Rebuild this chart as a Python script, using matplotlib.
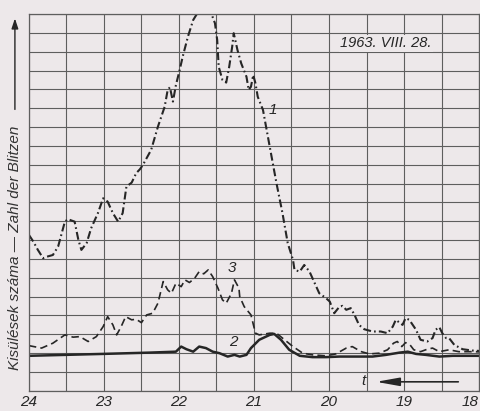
import numpy as np
import matplotlib.pyplot as plt
from matplotlib.patches import FancyArrowPatch

# curve 1 (dash-dot) - hour, count (grid units)
hours_1 = [24.00, 23.94, 23.88, 23.81, 23.76, 23.68, 23.61, 23.52, 23.48, 23.39, 23.34, 23.30,
           23.23, 23.17, 23.08, 23.01, 22.95, 22.88, 22.81, 22.75, 22.70, 22.63, 22.57, 22.52,
           22.48, 22.37, 22.28, 22.19, 22.15, 22.12, 22.08, 22.04, 21.99, 21.95, 21.88, 21.81,
           21.75, 21.66, 21.57, 21.52, 21.49, 21.47, 21.42, 21.37, 21.33, 21.29, 21.27, 21.24,
           21.22, 21.17, 21.10, 21.07, 21.04, 21.01, 20.98, 20.95, 20.88, 20.79, 20.70, 20.62,
           20.55, 20.48, 20.46, 20.39, 20.33, 20.26, 20.13, 20.04, 19.99, 19.93, 19.86, 19.82,
           19.77, 19.71, 19.66, 19.60, 19.53, 19.42, 19.31, 19.22, 19.15, 19.11, 19.06, 19.02,
           18.98, 18.93, 18.84, 18.78, 18.69, 18.62, 18.58, 18.53, 18.49, 18.44, 18.40, 18.33,
           18.22, 18.09, 18.00]
count_1 = [8.28, 7.92, 7.48, 7.04, 7.12, 7.21, 7.66, 8.98, 9.11, 8.98, 8.01, 7.48,
           7.84, 8.63, 9.43, 10.22, 10.04, 9.43, 8.98, 9.43, 10.84, 11.05, 11.55, 11.76,
           11.99, 12.79, 14.02, 15.08, 15.97, 16.11, 15.35, 16.23, 17.03, 17.73, 18.80, 19.68,
           20.07, 20.16, 20.04, 19.51, 18.62, 17.20, 16.50, 16.36, 17.20, 18.27, 18.98, 18.45,
           18.09, 17.38, 16.67, 15.97, 16.14, 16.76, 16.32, 15.61, 14.91, 12.96, 11.02, 9.43,
           7.84, 6.95, 6.42, 6.33, 6.68, 6.33, 5.18, 4.92, 4.74, 4.12, 4.47, 4.51,
           4.30, 4.39, 4.03, 3.50, 3.27, 3.15, 3.15, 3.06, 3.41, 3.77, 3.62, 3.50,
           3.86, 3.77, 3.24, 2.71, 2.62, 2.80, 3.24, 3.38, 3.06, 2.80, 2.80, 2.44,
           2.21, 2.14, 2.12]

# curve 2 (solid)
hours_2 = [24.00, 23.02, 22.39, 22.04, 21.97, 21.90, 21.81, 21.73, 21.64, 21.55, 21.46, 21.35,
           21.26, 21.19, 21.10, 21.04, 20.93, 20.79, 20.73, 20.64, 20.53, 20.39, 20.22, 20.04,
           19.86, 19.42, 19.24, 19.06, 18.95, 18.84, 18.71, 18.53, 18.35, 18.09, 18.00]
count_2 = [1.86, 1.96, 2.03, 2.08, 2.35, 2.21, 2.08, 2.35, 2.27, 2.08, 2.00, 1.82,
           1.91, 1.82, 1.91, 2.27, 2.71, 2.97, 3.02, 2.71, 2.18, 1.86, 1.79, 1.79,
           1.82, 1.82, 1.91, 2.03, 2.08, 1.96, 1.91, 1.82, 1.86, 1.86, 1.86]

# curve 3 (dashed)
hours_3 = [24.00, 23.83, 23.68, 23.52, 23.41, 23.32, 23.21, 23.10, 23.01, 22.95, 22.88, 22.83,
           22.77, 22.71, 22.63, 22.57, 22.50, 22.43, 22.35, 22.28, 22.21, 22.15, 22.10, 22.04,
           21.97, 21.92, 21.86, 21.79, 21.73, 21.67, 21.61, 21.55, 21.48, 21.42, 21.37, 21.30,
           21.26, 21.20, 21.19, 21.13, 21.04, 20.98, 20.93, 20.79, 20.70, 20.62, 20.48, 20.35,
           20.22, 20.04, 19.91, 19.77, 19.69, 19.57, 19.46, 19.33, 19.22, 19.14, 19.09, 19.03,
           18.98, 18.92, 18.87, 18.78, 18.69, 18.62, 18.53, 18.40, 18.27, 18.09, 18.00]
count_3 = [2.40, 2.27, 2.53, 2.97, 2.85, 2.88, 2.62, 2.88, 3.41, 3.94, 3.50, 2.97,
           3.41, 3.94, 3.77, 3.80, 3.62, 4.03, 4.12, 4.65, 5.80, 5.36, 5.18, 5.71,
           5.53, 5.89, 5.75, 5.98, 6.33, 6.21, 6.42, 6.06, 5.45, 4.83, 4.65, 5.18,
           5.89, 5.45, 5.00, 4.47, 4.03, 3.06, 2.97, 3.06, 3.06, 2.80, 2.35, 2.00,
           1.91, 1.86, 1.96, 2.27, 2.35, 2.08, 1.96, 2.00, 2.18, 2.53, 2.62, 2.35,
           2.56, 2.44, 2.18, 2.08, 2.21, 2.27, 2.08, 2.18, 2.08, 2.08, 2.07]

hour_ticks = [24, 23, 22, 21, 20, 19, 18]

paper = '#ede8ea'
ink = '#262626'
gridc = '#5e5e5e'
font = ['Liberation Sans', 'DejaVu Sans']

fig = plt.figure(figsize=(4.81, 4.11), dpi=100, facecolor=paper)
ax = fig.add_axes([0.060, 0.049, 0.936, 0.917], facecolor=paper)

ax.plot(hours_1, count_1, color=ink, lw=1.5, dashes=(3.8, 1.5, 0.8, 1.5))
ax.plot(hours_3, count_3, color=ink, lw=1.2, dashes=(4.5, 2.5))
ax.plot(hours_2, count_2, color=ink, lw=1.8)

ax.set_xlim(24, 18)
ax.set_ylim(0, 20)
ax.set_xticks(np.arange(18, 24.01, 0.5), minor=True)
ax.set_xticks(hour_ticks)
ax.set_xticklabels([str(h) for h in hour_ticks], fontsize=11, style='italic',
                   color=ink, family=font)
ax.get_xticklabels()[-1].set_ha('right')
ax.set_yticks(np.arange(0, 21, 1))
ax.set_yticklabels([])
ax.grid(True, which='both', color=gridc, lw=0.8)
ax.tick_params(which='both', length=0, pad=3)
for s in ax.spines.values():
    s.set_color(gridc)
    s.set_linewidth(0.9)

# curve numbers
ax.text(20.75, 14.9, '1', fontsize=11, style='italic', color=ink, family=font,
        ha='center', va='center')
ax.text(21.28, 2.6, '2', fontsize=11, style='italic', color=ink, family=font,
        ha='center', va='center')
ax.text(21.30, 6.5, '3', fontsize=11, style='italic', color=ink, family=font,
        ha='center', va='center')

ax.text(19.24, 18.45, '1963. VIII. 28.', fontsize=10.5, style='italic', color=ink,
        family=font, ha='center', va='center',
        bbox=dict(facecolor=paper, edgecolor='none', pad=1))

# time arrow
ax.text(19.54, 0.5, 't', fontsize=11, style='italic', color=ink, family=font,
        ha='center', va='center')
ax.annotate('', xy=(19.41, 0.48), xytext=(18.24, 0.48),
            arrowprops=dict(arrowstyle='-|>,head_length=1.4,head_width=0.25',
                            color=ink, lw=1.2))

fig.text(0.031, 0.398, 'Kisülések száma — Zahl der Blitzen', rotation=90,
         fontsize=11, style='italic', color='#333333', family=font,
         ha='center', va='center')
fig.patches.append(FancyArrowPatch(
    (0.031, 0.727), (0.031, 0.962), transform=fig.transFigure,
    arrowstyle='-|>,head_length=6,head_width=2', color=ink, lw=1))

fig.savefig('out.png', dpi=100, facecolor=paper)
